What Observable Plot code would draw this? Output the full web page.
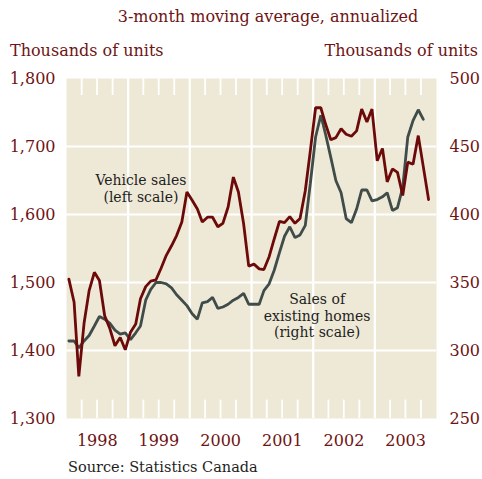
<!DOCTYPE html>
<html><head><meta charset="utf-8">
<script src="https://cdn.jsdelivr.net/npm/d3@7"></script>
<script src="https://cdn.jsdelivr.net/npm/@observablehq/plot@0.6"></script>
<style>body{margin:0;background:#fff} svg{display:block}</style>
</head><body><div id="chart"></div>
<script>
// Monthly values starting January 1998 (3-month moving average, annualized)
const startYear = 1998;
const vehicleSales = [1505,1471,1362,1440,1488,1515,1503,1451,1432,1407,1419,1401,
  1427,1439,1476,1494,1502,1504,1521,1540,1554,1569,1589,1633,
  1621,1608,1589,1596,1596,1582,1587,1611,1655,1633,1586,1524,
  1527,1520,1519,1538,1564,1590,1588,1597,1587,1594,1635,1694,
  1757,1757,1733,1710,1713,1726,1718,1715,1723,1755,1736,1755,
  1679,1697,1648,1667,1662,1628,1677,1674,1716,1670,1622];
const existingHomes = [307,307,302,307,311,318,325,323,320,315,312,313,
  308,313,318,337,345,350,350,349,346,341,337,333,
  327,323,335,336,339,331,332,334,337,339,342,334,
  334,334,344,349,359,372,384,391,383,385,392,423,
  457,473,459,442,425,416,397,394,404,418,418,410,
  411,413,416,403,405,420,457,469,477,470];
const yearLabels = ["1998","1999","2000","2001","2002","2003"];
const leftTicks = [1300,1400,1500,1600,1700,1800];
const rightTicks = [250,300,350,400,450,500];
const titleText = "3-month moving average, annualized";
const unitsText = "Thousands of units";
const sourceText = "Source: Statistics Canada";
const annotations = [
  {text: "Vehicle sales\n(left scale)", month: 14.6, value: 1639},
  {text: "Sales of\nexisting homes\n(right scale)", month: 48.8, value: 1452}
];

const RED = "#6c0909", TEXTRED = "#6e1414", GRAY = "#3f4c49", BEIGE = "#eee9d7", INK = "#1e1e1e";
const monthDate = m => new Date(Date.UTC(startYear, Math.floor(m), 1 + (m - Math.floor(m)) * 30));
const midMonth = i => new Date(Date.UTC(startYear, i, 15));
const toLeft = h => 1300 + (h - 250) * 2;

const vData = vehicleSales.map((v, i) => ({date: midMonth(i), v}));
const hData = existingHomes.map((h, i) => ({date: midMonth(i), v: toLeft(h)}));
const years = yearLabels.map(Number);
const yearStarts = years.slice(1).map(y => new Date(Date.UTC(y, 0, 1)));
const yearMids = years.map(y => new Date(Date.UTC(y, 6, 2)));
const quarters = years.flatMap(y => [3, 6, 9].map(m => new Date(Date.UTC(y, m, 1))));
const annData = annotations.map(a => ({...a, date: monthDate(a.month)}));

const plot = Plot.plot({
  width: 482, height: 479,
  marginLeft: 66, marginRight: 46, marginTop: 78, marginBottom: 61,
  style: {fontFamily: "DejaVu Serif", fontSize: "16px", background: "#fff"},
  x: {type: "utc", domain: [new Date(Date.UTC(1998,0,1)), new Date(Date.UTC(2004,0,1))]},
  y: {domain: [1300, 1800]},
  marks: [
    Plot.frame({fill: BEIGE, stroke: "none"}),
    Plot.ruleY(leftTicks.slice(1, -1), {stroke: "#fff", strokeWidth: 2.2}),
    Plot.ruleX(yearStarts, {stroke: "#fff", strokeWidth: 2.2}),
    Plot.ruleX(quarters, {y1: 1775, y2: 1800, stroke: "#fff", strokeWidth: 1.8}),
    Plot.ruleX(quarters, {y1: 1300, y2: 1327, stroke: "#fff", strokeWidth: 1.8}),
    Plot.line(hData, {x: "date", y: "v", stroke: GRAY, strokeWidth: 2.8, strokeLinejoin: "miter"}),
    Plot.line(vData, {x: "date", y: "v", stroke: RED, strokeWidth: 2.8, strokeLinejoin: "miter"}),
    Plot.text(annData, {x: "date", y: "value", text: "text", fill: INK, fontSize: 14, lineHeight: 1.2, textAnchor: "middle"}),
    Plot.axisY(leftTicks, {anchor: "left", tickSize: 0, tickPadding: 11, tickFormat: d3.format(","), color: TEXTRED, fontSize: 16, label: null}),
    Plot.axisY(rightTicks.map(toLeft), {anchor: "right", tickSize: 0, tickPadding: 13, tickFormat: v => String((v - 1300) / 2 + 250), color: TEXTRED, fontSize: 16, label: null}),
    Plot.axisX(yearMids, {tickSize: 0, tickPadding: 16, tickFormat: d => String(d.getUTCFullYear()), color: TEXTRED, fontSize: 16, label: null})
  ]
});

const svg = d3.select(plot);
svg.append("text").attr("x", 268).attr("y", 22).attr("text-anchor", "middle")
  .attr("fill", TEXTRED).attr("font-size", 16).text(titleText);
svg.append("text").attr("x", 10).attr("y", 56).attr("text-anchor", "start")
  .attr("fill", TEXTRED).attr("font-size", 16).text(unitsText);
svg.append("text").attr("x", 478).attr("y", 56).attr("text-anchor", "end")
  .attr("fill", TEXTRED).attr("font-size", 16).text(unitsText);
svg.append("text").attr("x", 68).attr("y", 472).attr("text-anchor", "start")
  .attr("fill", INK).attr("font-size", 14.5).text(sourceText);
document.getElementById("chart").append(plot);
</script>
</body></html>
